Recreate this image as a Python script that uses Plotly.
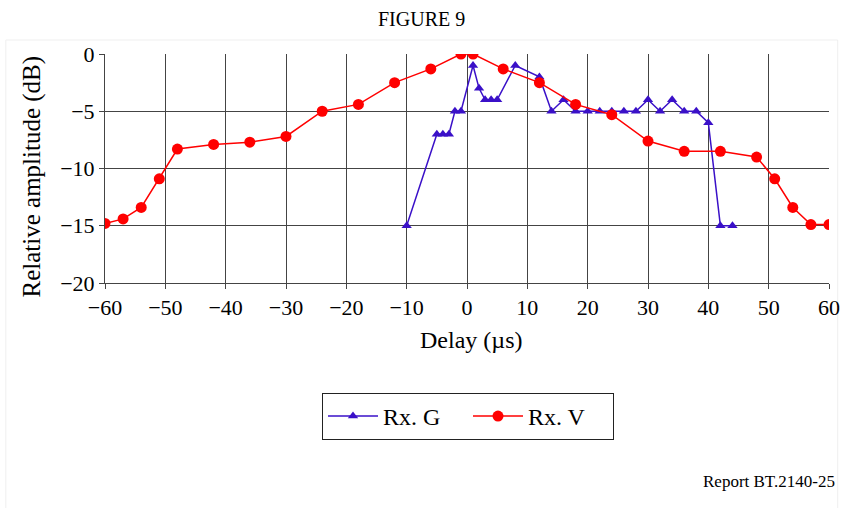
import plotly.graph_objects as go

# Rx. G (triangles)
g_delay = [-10, -5, -4, -3, -2, -1, 1, 2, 3, 4, 5, 8, 12, 14, 16, 18, 20, 22, 24, 26, 28, 30, 32, 34, 36, 38, 40, 42, 44]
g_amp = [-15, -7, -7, -7, -5, -5, -1, -3, -4, -4, -4, -1, -2, -5, -4, -5, -5, -5, -5, -5, -5, -4, -5, -4, -5, -5, -6, -15, -15]

# Rx. V (circles)
v_delay = [-60, -57, -54, -51, -48, -42, -36, -30, -24, -18, -12, -6, -1, 1, 6, 12, 18, 24, 30, 36, 42, 48, 51, 54, 57, 60]
v_amp = [-14.8, -14.4, -13.4, -10.9, -8.3, -7.9, -7.7, -7.2, -5.0, -4.4, -2.5, -1.3, 0, 0, -1.3, -2.5, -4.4, -5.3, -7.6, -8.5, -8.5, -9.0, -10.9, -13.4, -14.9, -14.9]

x_ticks = [-60, -50, -40, -30, -20, -10, 0, 10, 20, 30, 40, 50, 60]
y_ticks = [0, -5, -10, -15, -20]

FONT = "Liberation Serif, Times New Roman, serif"

fig = go.Figure()
fig.add_trace(go.Scatter(
    x=g_delay, y=g_amp, name="Rx. G", mode="lines+markers",
    line=dict(color="#3A10C8", width=1.5),
    marker=dict(symbol="triangle-up", size=9, color="#3A10C8"),
))
fig.add_trace(go.Scatter(
    x=v_delay, y=v_amp, name="Rx. V", mode="lines+markers",
    line=dict(color="#FF0000", width=1.5),
    marker=dict(symbol="circle", size=11, color="#FF0000"),
))

axis_common = dict(
    showgrid=True, gridcolor="#444444", gridwidth=1,
    showline=True, linecolor="#444444", linewidth=1,
    ticks="outside", ticklen=5, tickcolor="#444444",
    zeroline=False, mirror=False,
    tickfont=dict(family=FONT, size=22, color="black"),
)

fig.update_xaxes(range=[-60, 60], tickvals=x_ticks, **axis_common)
fig.update_yaxes(range=[-20, 0], tickvals=y_ticks, **axis_common)

fig.update_layout(
    width=844, height=508,
    margin=dict(l=105, r=15, t=54, b=225, autoexpand=False),
    paper_bgcolor="white", plot_bgcolor="white",
    font=dict(family=FONT, color="black"),
    showlegend=True,
    legend=dict(
        orientation="h", xref="container", yref="container",
        x=0.5545, xanchor="center", y=1 - 393 / 508, yanchor="top",
        bordercolor="#222222", borderwidth=1, bgcolor="white",
        font=dict(family=FONT, size=24, color="black"),
        tracegroupgap=0, itemwidth=50, entrywidth=80,
    ),
    annotations=[
        dict(text="FIGURE 9", xref="paper", yref="paper", x=0.437, y=1.0,
             yshift=48, showarrow=False, font=dict(family=FONT, size=20)),
        dict(text="Delay (µs)", xref="paper", yref="paper", x=0.505, y=0,
             yshift=-72, showarrow=False, font=dict(family=FONT, size=24)),
        dict(text="Relative amplitude (dB)", xref="paper", yref="paper", x=0, y=0.5,
             xshift=-90, yshift=-8, textangle=-90, showarrow=False,
             font=dict(family=FONT, size=25)),
        dict(text="Report BT.2140-25", xref="paper", yref="paper", x=1, y=0,
             xanchor="right", xshift=8, yshift=-210, showarrow=False,
             font=dict(family=FONT, size=17)),
    ],
    shapes=[
        dict(type="rect", xref="paper", yref="paper",
             x0=-0.137, x1=1.012, y0=-0.99, y1=1.061,
             line=dict(color="#EFEFEF", width=1), layer="below"),
    ],
)

fig.write_html("out.html", post_script="document.body.style.margin='0';",
               config={"displayModeBar": False})
